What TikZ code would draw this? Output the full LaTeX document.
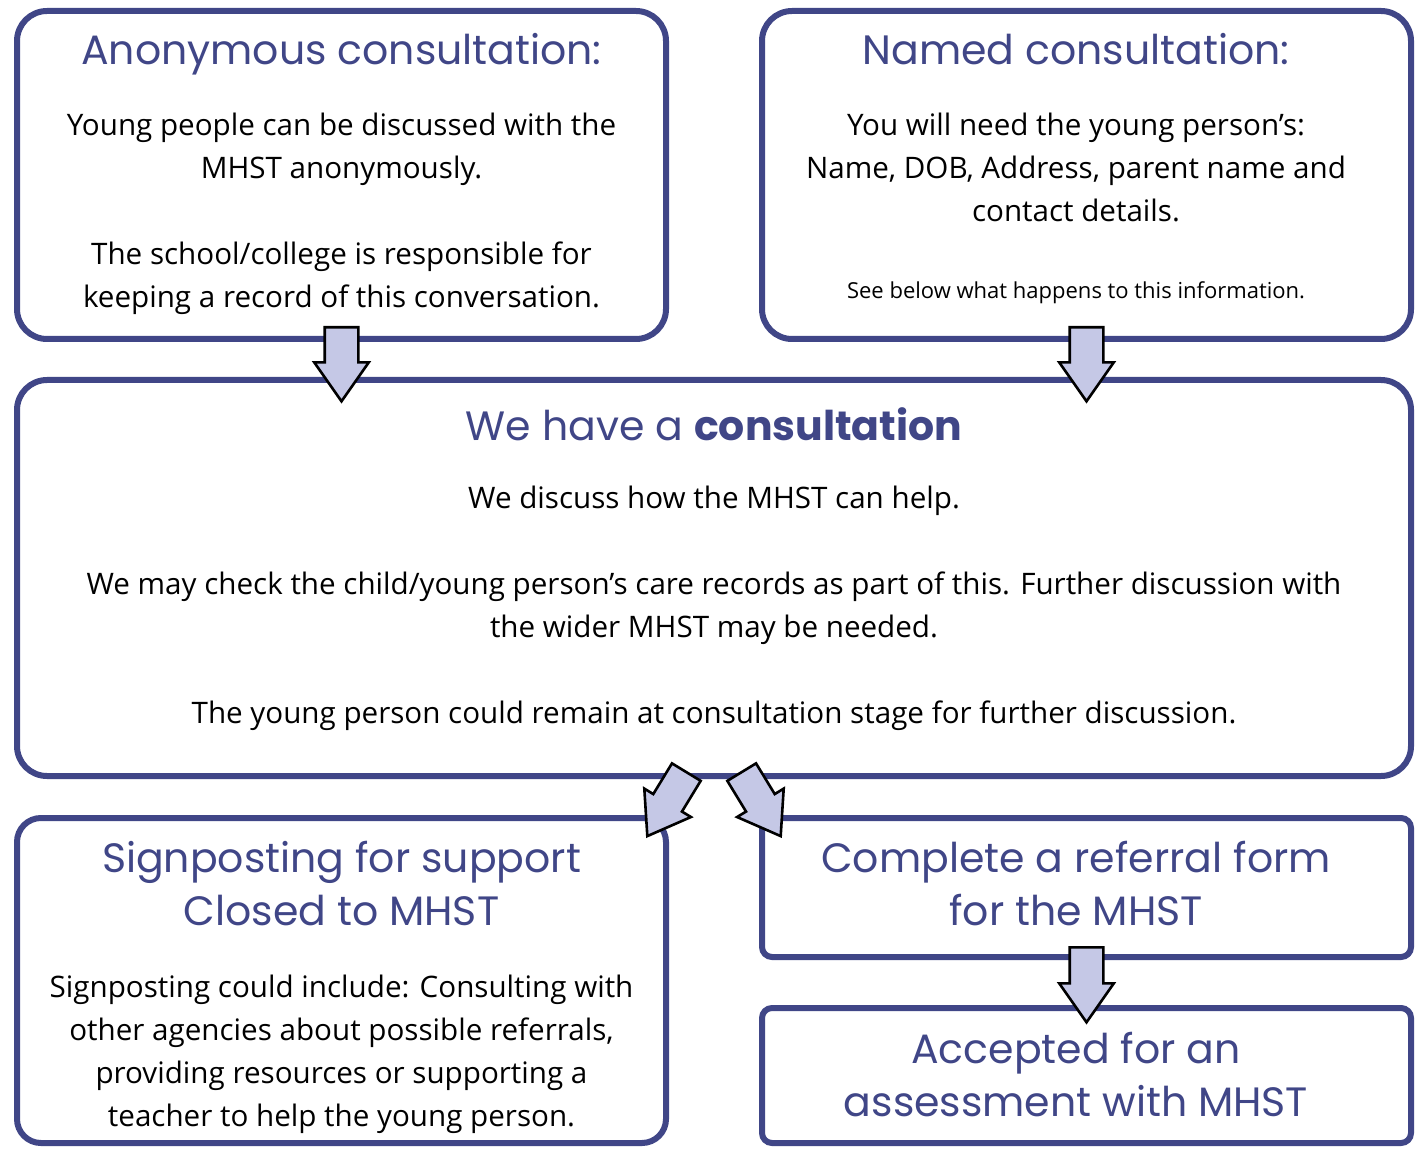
\documentclass[tikz,border=0pt]{standalone}
\usepackage{fontspec}
\setmainfont{Open Sans}
\newfontfamily\headfont{Poppins}
\usetikzlibrary{shapes.arrows,calc}

\definecolor{mhstblue}{RGB}{64,70,135}
\definecolor{arrowfill}{RGB}{197,200,230}

\tikzset{
  box/.style={draw=mhstblue,line width=3pt,rounded corners=15pt,inner sep=0pt},
  heading/.style={font=\headfont\fontsize{20.5}{26.5}\selectfont,text=mhstblue,align=center,anchor=base},
  body/.style={font=\fontsize{14.8}{21.5}\selectfont,align=center,anchor=base},
  flow/.style={single arrow,draw=black,line width=1.3pt,fill=arrowfill,
    single arrow tip angle=70,single arrow head extend=5.25pt,
    inner xsep=0pt,inner ysep=7.75pt,minimum width=26pt}
}

% block arrow from #1 (tail) to #2 (tip)
\newcommand\flowarrow[2]{%
  \path let \p1=(#1), \p2=(#2),
    \n1={atan2(\y2-\y1,\x2-\x1)}, \n2={veclen(\x2-\x1,\y2-\y1)} in
    node[flow,rotate=\n1,minimum height=\n2,anchor=tail] at (#1) {};}

\begin{document}
\begin{tikzpicture}[x=0.5pt,y=-0.5pt]
  \useasboundingbox (0,0) rectangle (1422,1149);

  % boxes
  \node[box,minimum width=324.5pt,minimum height=164pt] (anonbox) at (341.5,175) {};
  \node[box,minimum width=324.5pt,minimum height=164pt] (namedbox) at (1086.5,175) {};
  \node[box,minimum width=697pt,minimum height=198pt] (consbox) at (714,578) {};
  \node[box,rounded corners=12pt,minimum width=324.5pt,minimum height=162.5pt] (signbox) at (341.5,980.5) {};
  \node[box,rounded corners=5pt,minimum width=324.5pt,minimum height=69.5pt] (refbox) at (1086.5,887.5) {};
  \node[box,rounded corners=5pt,minimum width=324.5pt,minimum height=67.5pt] (accbox) at (1086.5,1075.5) {};

  % texts (base = baseline of the last line)
  \node[heading] (anonhead) at (341.5,65) {Anonymous consultation:};
  \node[body] (anontext) at (341.5,308) {Young people can be discussed with the\\MHST anonymously.\\[21.5pt]
    The school/college is responsible for\\keeping a record of this conversation.};

  \node[heading] (namedhead) at (1076,65) {Named consultation:};
  \node[body] (namedtext) at (1076,222) {You will need the young person's:\\Name, DOB, Address, parent name and\\contact details.};
  \node[body,font=\fontsize{11}{14}\selectfont] (namednote) at (1076,299) {See below what happens to this information.};

  \node[heading] (conshead) at (714,440) {We have a \textbf{consultation}};
  \node[body] (constext) at (714,723) {We discuss how the MHST can help.\\[21.5pt]
    We may check the child/young person's care records as part of this. Further discussion with\\the wider MHST may be needed.\\[21.5pt]
    The young person could remain at consultation stage for further discussion.};

  \node[heading] (signhead) at (341.5,925) {Signposting for support\\Closed to MHST};
  \node[body] (signtext) at (341.5,1126) {Signposting could include: Consulting with\\other agencies about possible referrals,\\providing resources or supporting a\\teacher to help the young person.};

  \node[heading] (refhead) at (1076,925) {Complete a referral form\\for the MHST};
  \node[heading] (acchead) at (1076,1116) {Accepted for an\\assessment with MHST};

  % arrows
  \coordinate (anontail) at ($(anonbox.south)+(0,-16)$);
  \coordinate (anontip) at ($(anonbox.south)+(0,58)$);
  \coordinate (namedtail) at ($(namedbox.south)+(0,-16)$);
  \coordinate (namedtip) at ($(namedbox.south)+(0,58)$);
  \coordinate (signtail) at ($(consbox.south)+(-27,-8)$);
  \coordinate (signtip) at ($(consbox.south)+(-66,56)$);
  \coordinate (reftail) at ($(consbox.south)+(27,-8)$);
  \coordinate (reftip) at ($(consbox.south)+(66,56)$);
  \coordinate (acctail) at ($(refbox.south)+(0,-14)$);
  \coordinate (acctip) at ($(refbox.south)+(0,61)$);

  \flowarrow{anontail}{anontip}
  \flowarrow{namedtail}{namedtip}
  \flowarrow{signtail}{signtip}
  \flowarrow{reftail}{reftip}
  \flowarrow{acctail}{acctip}
\end{tikzpicture}
\end{document}
